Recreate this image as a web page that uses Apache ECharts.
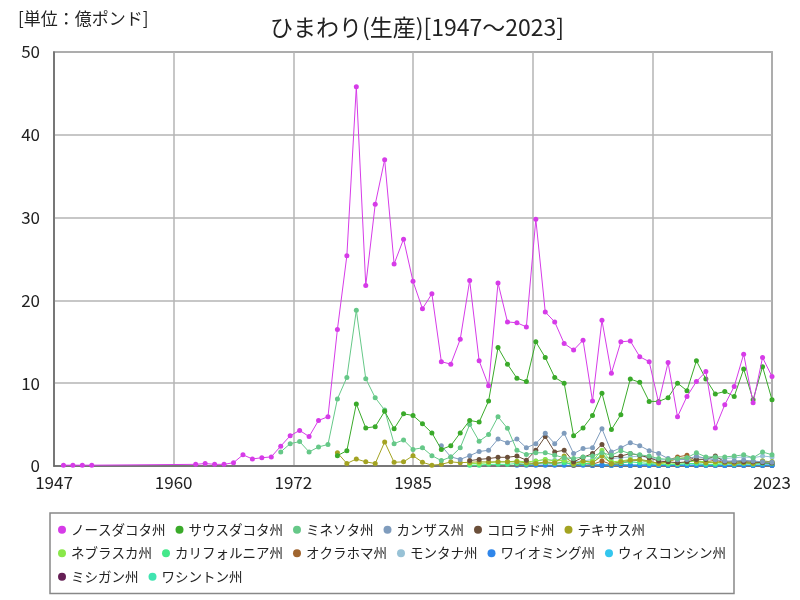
<!DOCTYPE html>
<html>
<head>
<meta charset="UTF-8">
<title>ひまわり(生産)</title>
<script src="https://cdn.jsdelivr.net/npm/echarts@6/dist/echarts.min.js"></script>
<style>
  html, body { margin: 0; padding: 0; background: #fff; }
  #chart { width: 800px; height: 600px; }
</style>
</head>
<body>
<div id="chart"></div>
<script>
// 億ポンド, 各州の開始年と値
var firstYear = 1947, lastYear = 2023;
var states = ['ノースダコタ州','サウスダコタ州','ミネソタ州','カンザス州','コロラド州','テキサス州',
              'ネブラスカ州','カリフォルニア州','オクラホマ州','モンタナ州','ワイオミング州','ウィスコンシン州',
              'ミシガン州','ワシントン州'];
var colors = ['#d63be8','#3aaa2a','#66c888','#7f9cbd','#6b4f3a','#a3a322',
              '#8ae84a','#44e88a','#a0652f','#98c2d6','#2f86ea','#33c6ee',
              '#651f55','#40e4b0'];
var startYears = [1948, 1977, 1971, 1988, 1991, 1977, 1991, 1991, 1996, 1998, 1996, 2004, 2004, 2004];

var northDakota = [0.1,0.1,0.1,0.1, null,null,null,null,null,null,null,null,null,null,
  0.2,0.3,0.2,0.2,0.4,1.35,0.85,1.0,1.1,2.4,3.65,4.3,3.55,5.5,5.95,16.5,25.4,45.8,21.8,31.6,
  37.0,24.4,27.4,22.3,19.0,20.8,12.6,12.3,15.3,22.4,12.7,9.7,22.1,17.4,17.3,16.8,29.8,18.6,
  17.4,14.8,14.0,15.2,7.85,17.6,11.2,15.0,15.1,13.2,12.6,7.65,12.5,5.95,8.4,10.2,11.4,4.6,
  7.4,9.6,13.5,7.65,13.1,10.8];
var southDakota = [1.25,1.85,7.5,4.6,4.75,6.6,4.5,6.3,6.1,5.1,4.0,2.0,2.45,4.0,5.5,5.3,7.85,
  14.3,12.3,10.6,10.2,15.0,13.1,10.7,10.0,3.65,4.6,6.1,8.8,4.4,6.2,10.5,10.1,7.8,7.8,8.25,
  10.0,9.1,12.7,10.5,8.7,9.0,8.4,11.7,8.0,12.0,8.0];
var minnesota = [1.7,2.7,2.95,1.7,2.3,2.6,8.1,10.7,18.8,10.55,8.25,6.75,2.7,3.15,2.0,2.2,1.25,
  0.65,1.1,2.2,5.0,3.0,3.8,5.95,4.55,1.9,1.4,1.6,1.6,1.3,1.0,0.9,1.1,1.2,1.6,1.3,1.85,1.5,
  1.35,1.2,0.9,0.8,0.9,1.0,1.6,1.1,1.1,1.1,1.2,1.35,1.0,1.7,1.35];
var kansas = [2.45,1.1,0.8,1.25,1.75,1.9,3.25,2.8,3.25,2.2,2.7,3.95,2.7,3.95,1.5,2.1,2.2,4.5,
  1.7,2.2,2.8,2.45,1.85,1.5,0.9,0.75,0.8,1.2,0.9,0.75,0.6,0.6,0.7,0.6,0.5,0.45];
var colorado = [0.65,0.8,0.9,1.05,1.05,1.2,0.7,1.9,3.55,1.7,1.9,0.5,1.05,1.5,2.6,1.1,1.2,1.5,
  1.3,1.0,0.6,0.5,0.4,0.5,0.8,0.8,1.2,0.5,0.5,0.5,0.5,0.4,0.35];
var texas = [1.6,0.3,0.85,0.5,0.3,2.9,0.45,0.5,1.25,0.45,0.1,0.2,0.5,0.4,0.45,0.5,0.5,
  0.5,0.5,0.5,0.4,0.3,0.5,0.4,1.2,0.3,0.6,0.4,1.2,0.3,0.5,0.7,0.8,0.6,0.3,0.5,0.9,1.0,0.5,
  0.4,0.5,0.4,0.3,0.4,0.3,0.6,0.5];
var nebraska = [0.3,0.3,0.4,0.5,0.5,0.6,0.5,0.6,0.8,0.6,0.7,0.3,0.5,0.6,1.9,0.5,0.6,0.8,0.7,
  0.5,0.3,0.4,0.3,0.5,0.6,0.5,0.4,0.4,0.5,0.5,0.4,0.6,0.5];
var california = [0.1,0.1,0.2,0.2,0.2,0.3,0.2,0.3,0.4,0.3,0.4,0.2,0.3,0.3,1.5,0.3,0.4,0.5,0.4,
  0.3,0.2,0.2,0.2,0.3,0.3,0.2,0.2,0.3,0.2,0.3,0.2,0.3,0.3];
var oklahoma = [0.2,0.2,0.3,0.4,0.3,0.5,0.1,0.3,0.2,0.6,0.2,0.3,0.6,0.7,0.5,0.3,0.7,1.1,1.3,
  0.6,0.5,0.7,0.4,0.3,0.4,0.3,0.4,0.3];
var montana = [0.6,0.8,0.7,0.9,0.5,0.6,0.8,1.2,0.9,1.0,1.1,1.2,1.0,0.8,0.7,0.8,0.9,1.0,1.0,
  0.9,0.9,1.0,1.1,1.0,1.2,1.1];
var wyoming = [0.1,0.1,0.1,0.1,0.1,0.1,0.05,0.1,0.1,0.1,0.1,0.1,0.1,0.1,0.1,0.05,0.1,0.1,0.1,
  0.1,0.1,0.1,0.05,0.1,0.1,0.05,0.1,0.1];
var wisconsin = [0.1,0.1,0.05,0.1,0.1,0.1,0.05,0.1,0.1,0.1,0.05,0.1,0.1,0.1,0.05,0.1,0.1,0.05,0.1,0.1];
var michigan = [0.05,0.05,0.1,0.05,0.05,0.05,0.1,0.05,0.05,0.05,0.05,0.05,0.1,0.05,0.05,0.05,0.05,0.05,0.05,0.05];
var washington = [0.1,0.2,0.1,0.2,0.1,0.1,0.2,0.1,0.1,0.2,0.1,0.1,0.1,0.2,0.1,0.1,0.1,0.1,0.1,0.1];

var values = [northDakota, southDakota, minnesota, kansas, colorado, texas, nebraska,
              california, oklahoma, montana, wyoming, wisconsin, michigan, washington];

var FONT = '"Noto Sans CJK JP", "Noto Sans", sans-serif';
var span = lastYear - firstYear;

function toPoints(start, arr) {
  // x は firstYear からの年数
  return arr.map(function (v, i) { return [start + i - firstYear, v]; });
}

var series = states.map(function (name, i) {
  return {
    name: name,
    type: 'line',
    data: toPoints(startYears[i], values[i]),
    connectNulls: true,
    symbol: 'circle',
    symbolSize: 5,
    z: 30 - i,
    lineStyle: { width: 1, color: colors[i] },
    itemStyle: { color: colors[i] }
  };
});

var chart = echarts.init(document.getElementById('chart'));
chart.setOption({
  animation: false,
  color: colors,
  title: [
    { text: 'ひまわり(生産)[1947～2023]', left: 412, top: 11, textAlign: 'center',
      textStyle: { fontFamily: FONT, fontSize: 23, fontWeight: 'normal', color: '#222' } },
    { text: '[単位：億ポンド]', left: 13, top: 5,
      textStyle: { fontFamily: FONT, fontSize: 17, fontWeight: 'normal', color: '#222' } }
  ],
  grid: { left: 54, right: 28, top: 52, bottom: 134, show: true, borderColor: '#777', borderWidth: 1.5 },
  xAxis: {
    type: 'value', min: 0, max: span, interval: span / 6,
    axisLine: { show: true, lineStyle: { color: '#666', width: 1.5 } },
    axisTick: { show: false },
    splitLine: { show: true, lineStyle: { color: '#b5b5b5', width: 1.5 } },
    axisLabel: { fontFamily: FONT, fontSize: 17, color: '#222', margin: 8,
      formatter: function (v) { return String(Math.round(v + firstYear)); } }
  },
  yAxis: {
    type: 'value', min: 0, max: 50, interval: 10,
    axisLine: { show: true, lineStyle: { color: '#666', width: 1.5 } },
    axisTick: { show: false },
    splitLine: { show: true, lineStyle: { color: '#b5b5b5', width: 1.5 } },
    axisLabel: { fontFamily: FONT, fontSize: 17, color: '#222', margin: 14 }
  },
  legend: {
    data: states,
    left: 50, top: 513, width: 680,
    orient: 'horizontal',
    icon: 'circle', itemWidth: 8, itemHeight: 8, itemGap: 10,
    padding: [10, 8],
    borderColor: '#888', borderWidth: 1.5,
    textStyle: { fontFamily: FONT, fontSize: 13.5, color: '#222', lineHeight: 12 }
  },
  series: series
});
</script>
</body>
</html>
